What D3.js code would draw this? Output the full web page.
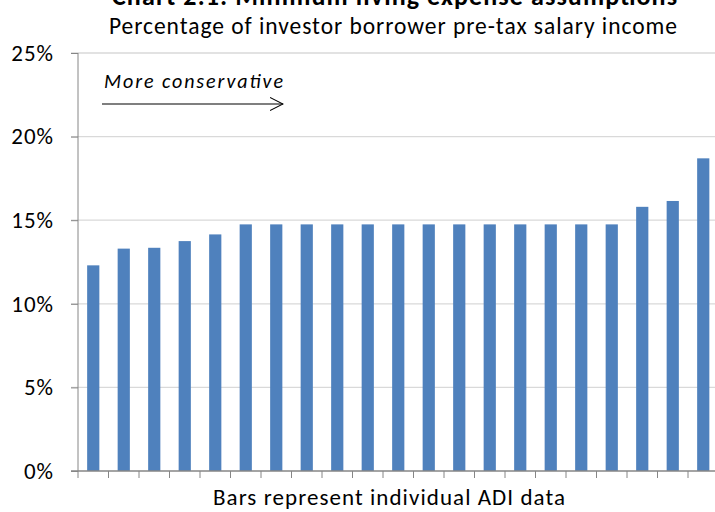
<!DOCTYPE html>
<html><head><meta charset="utf-8">
<script src="https://cdn.jsdelivr.net/npm/d3@7"></script>
<style>body{margin:0;background:#fff}svg{display:block}text{font-family:Carlito,Calibri,Lato,"Open Sans",sans-serif}</style>
</head><body>
<svg id="c" width="715" height="512"></svg>
<script>
const categories = d3.range(1, 22).map(i => "ADI " + i);
const values = [12.3, 13.3, 13.35, 13.75, 14.15, 14.75, 14.75, 14.75, 14.75, 14.75, 14.75, 14.75, 14.75, 14.75, 14.75, 14.75, 14.75, 14.75, 15.8, 16.15, 18.7];
const yTicks = [0, 5, 10, 15, 20, 25];
const title = "Chart 2.1: Minimum living expense assumptions";
const subtitle = "Percentage of investor borrower pre-tax salary income";
const xLabel = "Bars represent individual ADI data";
const note = "More conservative";

const svg = d3.select("#c");
const x = d3.scaleBand().domain(categories).range([78, 718.5]).paddingInner(0.6).paddingOuter(0.3);
const y = d3.scaleLinear().domain([0, 25]).range([471, 53]);

// gridlines
svg.append("g").selectAll("line").data(yTicks.filter(d => d > 0)).join("line")
  .attr("x1", 71).attr("x2", 718).attr("y1", d => y(d)).attr("y2", d => y(d))
  .attr("stroke", "#d9d9d9").attr("stroke-width", 1.3);

// bars
svg.append("g").selectAll("rect").data(values).join("rect")
  .attr("x", (d, i) => x(categories[i])).attr("width", x.bandwidth())
  .attr("y", d => y(d)).attr("height", d => y(0) - y(d))
  .attr("fill", "#4f81bd");

// y axis
const ya = svg.append("g").attr("transform", "translate(78,0)")
  .call(d3.axisLeft(y).tickValues(yTicks).tickFormat(d => d + "%").tickSize(7).tickPadding(17));
ya.select(".domain").attr("stroke", "#868686").attr("d", `M0,${y(25)}V${y(0)}`);
ya.selectAll(".tick line").attr("stroke", "#868686");
ya.selectAll(".tick text").attr("font-size", 23).attr("letter-spacing", 1).attr("fill", "#000")
  .attr("font-family", "Carlito,Calibri,Lato,sans-serif");

// x axis with boundary ticks
const xa = svg.append("g").attr("transform", `translate(0,${y(0)})`);
xa.append("line").attr("x1", 71).attr("x2", 718).attr("stroke", "#868686").attr("stroke-width", 1.3);
const step = x.step();
const boundaries = categories.map(c => x(c) - (step - x.bandwidth()) / 2);
xa.selectAll("line.t").data(boundaries).join("line").attr("class", "t")
  .attr("x1", d => d).attr("x2", d => d).attr("y1", 0).attr("y2", 7).attr("stroke", "#868686");

// titles (title is partly cropped at the top edge, as in the reference)
svg.append("text").attr("x", 394.5).attr("y", 5).attr("text-anchor", "middle")
  .attr("font-size", 26).attr("font-weight", "bold")
  .attr("textLength", 565).attr("lengthAdjust", "spacing").text(title);
svg.append("text").attr("x", 393).attr("y", 33.5).attr("text-anchor", "middle")
  .attr("font-size", 23.5).attr("textLength", 568).attr("lengthAdjust", "spacing").text(subtitle);
svg.append("text").attr("x", 389).attr("y", 505).attr("text-anchor", "middle")
  .attr("font-size", 23).attr("textLength", 352).attr("lengthAdjust", "spacing").text(xLabel);

// annotation
svg.append("text").attr("x", 104).attr("y", 88).attr("font-size", 20).attr("font-style", "italic")
  .attr("textLength", 179).attr("lengthAdjust", "spacing").text(note);
svg.append("defs").append("marker").attr("id", "ah").attr("viewBox", "0 0 14 14").attr("refX", 13).attr("refY", 7)
  .attr("markerWidth", 14).attr("markerHeight", 14).attr("markerUnits", "userSpaceOnUse").attr("orient", "auto")
  .append("path").attr("d", "M0,0.5L13,7L0,13.5").attr("fill", "none").attr("stroke", "#000").attr("stroke-width", 1.1);
svg.append("line").attr("x1", 102).attr("x2", 283).attr("y1", 104).attr("y2", 104)
  .attr("stroke", "#000").attr("stroke-width", 1.2).attr("marker-end", "url(#ah)");
</script>
</body></html>
